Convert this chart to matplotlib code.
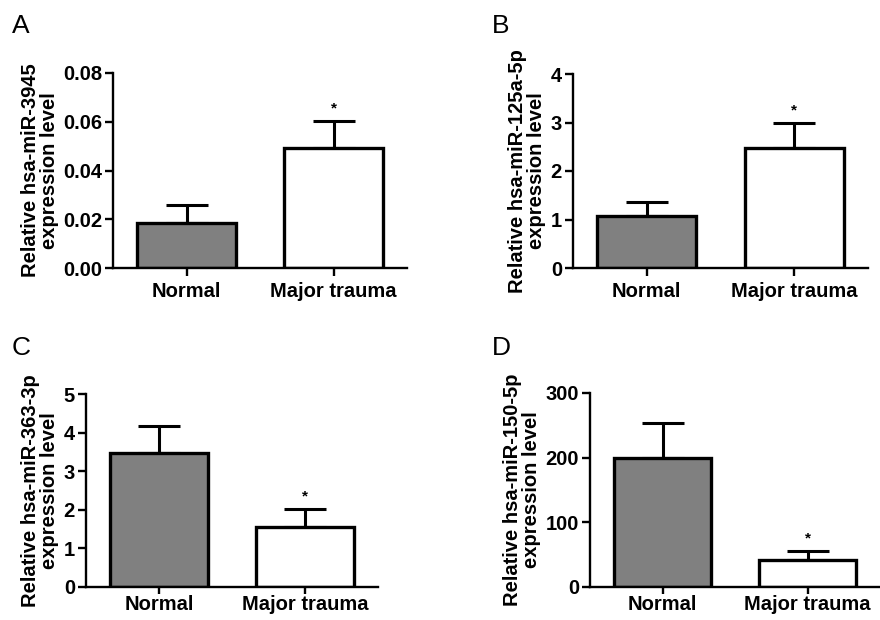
import matplotlib
matplotlib.use("Agg")
import matplotlib.pyplot as plt
import numpy as np

plt.rcParams['font.family'] = ['Liberation Sans', 'DejaVu Sans']

groups = ["Normal", "Major trauma"]
panel_letters = ["A", "B", "C", "D"]
ylabels = ["Relative hsa-miR-3945\nexpression level",
           "Relative hsa-miR-125a-5p\nexpression level",
           "Relative hsa-miR-363-3p\nexpression level",
           "Relative hsa-miR-150-5p\nexpression level"]
means_A = [0.0185, 0.0492]
errs_A = [0.0072, 0.0110]
means_B = [1.08, 2.47]
errs_B = [0.29, 0.51]
means_C = [3.48, 1.56]
errs_C = [0.70, 0.47]
means_D = [200, 41]
errs_D = [53, 15]
yticks_A = [0.00, 0.02, 0.04, 0.06, 0.08]
yticks_B = [0, 1, 2, 3, 4]
yticks_C = [0, 1, 2, 3, 4, 5]
yticks_D = [0, 100, 200, 300]
star_index = [1, 1, 1, 1]

fig = plt.figure(figsize=(8.8, 6.2), dpi=100)

W, H = 880.0, 620.0
def rect(l, r, t, b):
    return [l / W, 1 - b / H, (r - l) / W, (b - t) / H]

axes_rects = [rect(113, 407, 73, 268), rect(573, 868, 74, 268),
              rect(86, 378, 394, 587), rect(590, 880, 393, 587)]
letter_pos = [(12, 33), (492, 33), (12, 355), (492, 355)]
xpads = [4, 4, 1, 1]
xticklen = [6, 6, 5, 5]

data = [(means_A, errs_A, yticks_A, "{:.2f}"),
        (means_B, errs_B, yticks_B, "{:d}"),
        (means_C, errs_C, yticks_C, "{:d}"),
        (means_D, errs_D, yticks_D, "{:d}")]

colors = ["#808080", "#ffffff"]
FS = 14.5

for i, (means, errs, yt, fmt) in enumerate(data):
    ax = fig.add_axes(axes_rects[i])
    x = np.arange(len(groups))
    ax.errorbar(x, means, yerr=[np.zeros(len(errs)), errs], fmt='none',
                ecolor='black', elinewidth=2.2, capsize=15, capthick=2.2, zorder=1)
    ax.bar(x, means, width=0.67, color=colors, edgecolor='black', linewidth=2.4, zorder=2)
    for j in range(len(groups)):
        if j == star_index[i]:
            ax.annotate("*", xy=(x[j], means[j] + errs[j]), xytext=(0, 4),
                        textcoords='offset points', ha='center', va='bottom',
                        fontsize=11, fontweight='bold')
    ax.set_xlim(-0.5, 1.5)
    ax.set_ylim(yt[0], yt[-1])
    ax.set_yticks(yt)
    ax.set_yticklabels([fmt.format(v) for v in yt])
    ax.set_xticks(x)
    ax.set_xticklabels(groups)
    for s in ['top', 'right']:
        ax.spines[s].set_visible(False)
    for s in ['left', 'bottom']:
        ax.spines[s].set_linewidth(1.7)
    ax.spines['left'].set_zorder(3)
    ax.spines['bottom'].set_zorder(3)
    ax.tick_params(axis='both', direction='out', length=6, width=1.7, labelsize=FS, pad=2)
    ax.tick_params(axis='x', pad=xpads[i], length=xticklen[i])
    for lab in ax.get_xticklabels() + ax.get_yticklabels():
        lab.set_fontweight('bold')
    ax.set_ylabel(ylabels[i], fontsize=FS, fontweight='bold', linespacing=1.0, labelpad=3)
    ax.patch.set_visible(False)
    lx, ly = letter_pos[i]
    fig.text(lx / W, 1 - ly / H, panel_letters[i], fontsize=19, ha='left', va='baseline')

fig.savefig("out.png", dpi=100)
